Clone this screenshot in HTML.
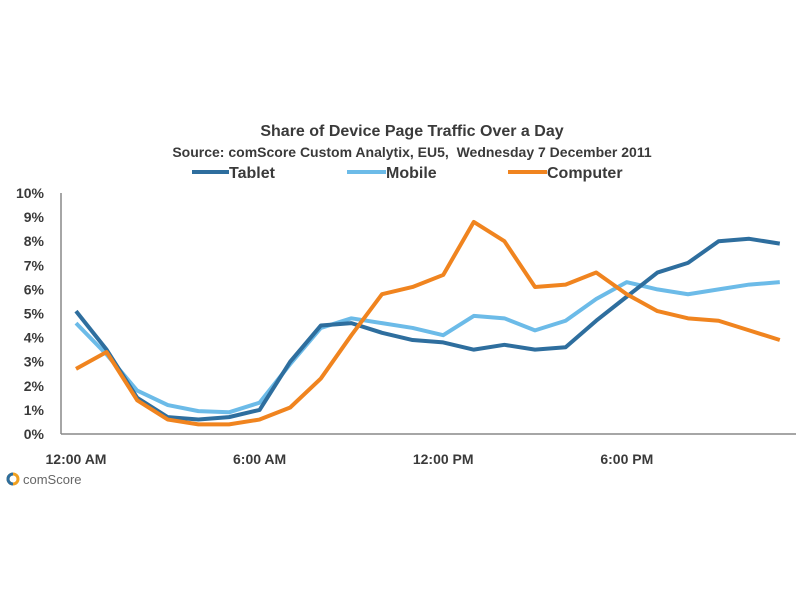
<!DOCTYPE html>
<html><head><meta charset="utf-8"><style>
html,body{margin:0;padding:0;background:#fff;width:800px;height:600px;overflow:hidden}
text{font-family:"Liberation Sans",sans-serif;font-weight:bold;fill:#3a3a3a}
</style></head><body>
<svg id="chart" width="800" height="600" xmlns="http://www.w3.org/2000/svg">
<text x="412" y="136" text-anchor="middle" font-size="16">Share of Device Page Traffic Over a Day</text>
<text x="412" y="157" text-anchor="middle" font-size="14" xml:space="preserve">Source: comScore Custom Analytix, EU5,  Wednesday 7 December 2011</text>
<g>
<g><line x1="192" y1="172" x2="229" y2="172" stroke="#2e6e9e" stroke-width="4"/><text x="229" y="178" font-size="16">Tablet</text></g>
<g><line x1="347" y1="172" x2="386" y2="172" stroke="#6cbbe8" stroke-width="4"/><text x="386" y="178" font-size="16">Mobile</text></g>
<g><line x1="508" y1="172" x2="547" y2="172" stroke="#f0841f" stroke-width="4"/><text x="547" y="178" font-size="16">Computer</text></g>
</g>
<line x1="61" y1="193" x2="61" y2="434" stroke="#888" stroke-width="1.5"/>
<line x1="61" y1="434" x2="796" y2="434" stroke="#888" stroke-width="1.5"/>
<g id="yticks"></g><g id="xticks"></g><g id="series"></g>
<g>
<circle cx="13" cy="479" r="5" fill="none" stroke="#f0a020" stroke-width="3"/>
<path d="M13 474 A5 5 0 0 0 13 484" fill="none" stroke="#2e6e9e" stroke-width="3"/>
<text x="23" y="484" font-size="13" style="fill:#666;font-weight:normal">comScore</text>
</g>
</svg>
<script>
const yTickLabels=["0%","1%","2%","3%","4%","5%","6%","7%","8%","9%","10%"];
const xTickLabels=["12:00 AM","6:00 AM","12:00 PM","6:00 PM"];
const xTickIndex=[0,6,12,18];
const tablet=[5.1,3.5,1.5,0.7,0.6,0.7,1.0,3.0,4.5,4.6,4.2,3.9,3.8,3.5,3.7,3.5,3.6,4.7,5.7,6.7,7.1,8.0,8.1,7.9];
const mobile=[4.6,3.3,1.8,1.2,0.95,0.9,1.3,2.9,4.4,4.8,4.6,4.4,4.1,4.9,4.8,4.3,4.7,5.6,6.3,6.0,5.8,6.0,6.2,6.3];
const computer=[2.7,3.4,1.4,0.6,0.4,0.4,0.6,1.1,2.3,4.1,5.8,6.1,6.6,8.8,8.0,6.1,6.2,6.7,5.8,5.1,4.8,4.7,4.3,3.9];
const NS="http://www.w3.org/2000/svg";
function xs(i){return 76+i*30.6;}
function ys(v){return 434-v*24.1;}
const yt=document.getElementById('yticks');
yTickLabels.forEach((l,i)=>{const t=document.createElementNS(NS,'text');
t.setAttribute('x',44);t.setAttribute('y',ys(i)+5);t.setAttribute('text-anchor','end');t.setAttribute('font-size','14');t.textContent=l;


yt.appendChild(t);});
const xt=document.getElementById('xticks');
xTickLabels.forEach((l,i)=>{const t=document.createElementNS(NS,'text');
t.setAttribute('x',xs(xTickIndex[i]));t.setAttribute('y',464);t.setAttribute('text-anchor','middle');t.setAttribute('font-size','14');t.textContent=l;


xt.appendChild(t);});
const sg=document.getElementById('series');
[[mobile,'#6cbbe8','mobile'],[tablet,'#2e6e9e','tablet'],[computer,'#f0841f','computer']].forEach(([d,c,n])=>{
const p=document.createElementNS(NS,'polyline');
p.setAttribute('points',d.map((v,i)=>xs(i)+','+ys(v)).join(' '));
p.setAttribute('fill','none');p.setAttribute('stroke',c);p.setAttribute('stroke-width','4');p.setAttribute('stroke-linejoin','round');


sg.appendChild(p);});
</script>
</body></html>
